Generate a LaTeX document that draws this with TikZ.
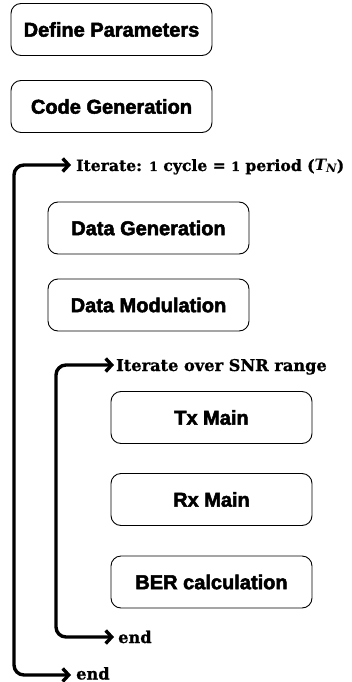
\documentclass[tikz,border=0pt]{standalone}
\usepackage{fontspec}
\usepackage{graphicx}
\newfontfamily\stagefont{Liberation Sans}[BoldFeatures={FakeBold=2.5}]
\newfontfamily\labelserif{DejaVu Serif}[BoldFeatures={FakeBold=0.8}]
\usetikzlibrary{arrows.meta}
% short old-style figure
\newcommand\osf[1]{\scalebox{0.8}{#1}}
% period symbol with a near x-height subscript
\newcommand\period{{\itshape T\raisebox{-2pt}{\fontsize{12}{14}\selectfont N}}}
\begin{document}
\begin{tikzpicture}[x=1pt,y=-1pt,
  stagebox/.style={draw, line width=0.9pt, rounded corners=10pt,
    minimum width=201pt, minimum height=52pt, inner sep=0pt,
    font=\fontsize{20}{24}\selectfont\stagefont\bfseries},
  loopline/.style={line width=3.4pt, rounded corners=10pt,
    {Straight Barb[length=6pt,width=13pt]}-{Straight Barb[length=6pt,width=13pt]}},
  looplabel/.style={anchor=base west, inner sep=0pt,
    font=\fontsize{16.2}{19}\selectfont\labelserif\bfseries}]
\useasboundingbox (0,0) rectangle (351,682);

% processing stages
\node[stagebox] (params)  at (111.5,29.5) {Define Parameters};
\node[stagebox] (codegen) at (111.5,106.5) {Code Generation};
\node[stagebox] (datagen) at (148.5,228) {Data Generation};
\node[stagebox] (datamod) at (148.5,305) {Data Modulation};
\node[stagebox] (tx)      at (211.5,417.5) {Tx Main};
\node[stagebox] (rx)      at (211.5,499.5) {Rx Main};
\node[stagebox] (ber)     at (211.5,582) {BER calculation};

% loop labels
\node[looplabel] (outerlabel) at (76,171)
  {\resizebox{268pt}{!}{Iterate: \osf{1} cycle = \osf{1} period (\period)}};
\node[looplabel] (innerlabel) at (116,371) {Iterate over SNR range};
\node[looplabel] (innerend) at (118,643) {end};
\node[looplabel] (outerend) at (76,679.5) {end};

% loop brackets
\coordinate (outerin)  at (71,165);
\coordinate (outerout) at (71,675);
\coordinate (innerin)  at (114,365);
\coordinate (innerout) at (114,637);
\draw[loopline] (outerin) -- (14,165) -- (14,675) -- (outerout);
\draw[loopline] (innerin) -- (56,365) -- (56,637) -- (innerout);
\end{tikzpicture}
\end{document}
